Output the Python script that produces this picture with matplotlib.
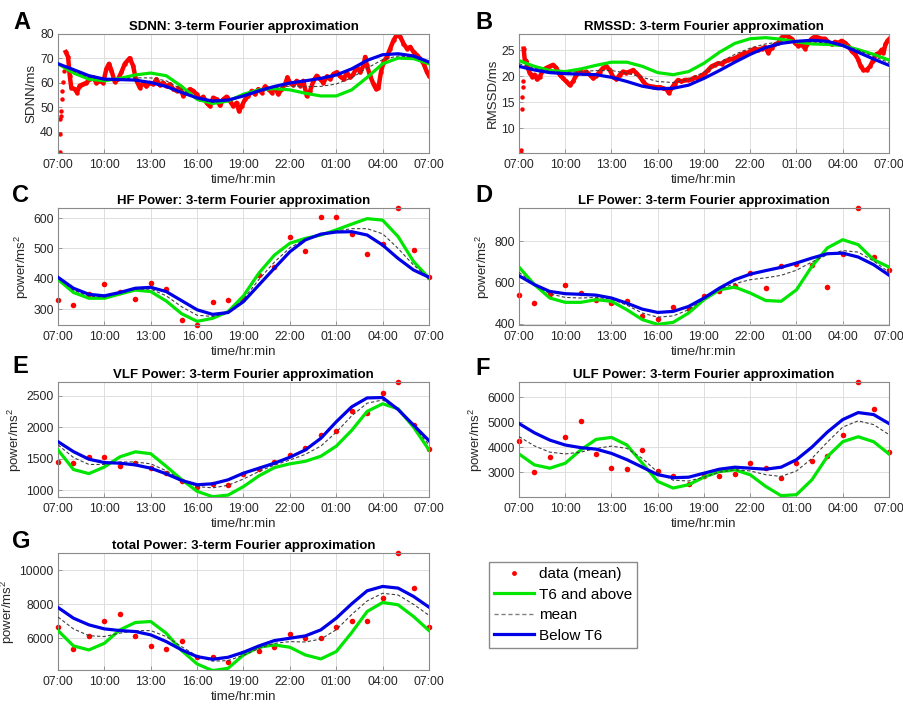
import numpy as np
import matplotlib
matplotlib.use("Agg")
import matplotlib.pyplot as plt
from matplotlib.lines import Line2D

plt.rcParams['font.family'] = ['Liberation Sans', 'DejaVu Sans']
plt.rcParams['mathtext.default'] = 'regular'

# hours after 07:00
hours = np.arange(25)
tick_hours = [0, 3, 6, 9, 12, 15, 18, 21, 24]
tick_labels = ['07:00', '10:00', '13:00', '16:00', '19:00', '22:00', '01:00', '04:00', '07:00']

# ---- A: SDNN ----
A_start_t = [0.10, 0.13, 0.16, 0.18, 0.20, 0.23, 0.27, 0.30, 0.36]
A_start_v = [31.5, 39.0, 45.0, 46.5, 48.4, 53.2, 56.7, 60.2, 65.0]
A_t = [0.50, 0.65, 0.76, 0.86, 1.08, 1.23, 1.40, 1.62, 1.84, 2.05, 2.27, 2.48, 2.70, 2.92,
       3.13, 3.30, 3.46, 3.67, 3.89, 4.10, 4.32, 4.64, 4.86, 5.03, 5.29, 5.51, 5.72, 5.94,
       6.16, 6.37, 6.59, 6.80, 7.02, 7.24, 7.45, 7.67, 7.88, 8.10, 8.32, 8.53, 8.75, 8.96,
       9.18, 9.40, 9.61, 9.83, 10.04, 10.26, 10.48, 10.69, 10.91, 11.12, 11.34, 11.56, 11.71,
       11.88, 12.10, 12.31, 12.53, 12.74, 12.96, 13.17, 13.39, 13.61, 13.82, 14.04, 14.25,
       14.47, 14.69, 14.84, 15.01, 15.23, 15.44, 15.66, 15.87, 16.09, 16.31, 16.52, 16.74,
       16.95, 17.17, 17.39, 17.60, 17.82, 18.03, 18.25, 18.47, 18.68, 18.90, 19.11, 19.33,
       19.55, 19.76, 19.87, 19.98, 20.19, 20.41, 20.58, 20.73, 20.89, 21.06, 21.27, 21.49,
       21.71, 21.92, 22.14, 22.35, 22.57, 22.79, 23.00, 23.22, 23.43, 23.65, 23.87, 24.00]
A_v = [72.6, 70.6, 62.9, 58.0, 57.4, 56.0, 58.8, 59.4, 60.0, 61.5, 62.2, 60.0, 60.8, 60.0,
       65.7, 67.8, 65.0, 60.4, 61.5, 64.3, 67.8, 70.1, 67.0, 61.5, 58.0, 60.0, 58.5, 60.0,
       59.4, 61.5, 59.0, 60.0, 58.5, 59.4, 57.4, 56.7, 58.5, 54.6, 56.0, 57.4, 56.7, 55.3,
       53.2, 54.3, 51.8, 50.4, 53.9, 53.2, 50.7, 53.2, 54.3, 52.5, 50.4, 51.8, 48.3,
       50.4, 53.2, 54.6, 56.7, 55.3, 57.4, 56.0, 58.5, 57.4, 56.0, 58.0, 55.3,
       57.4, 59.4, 62.2, 60.0, 59.0, 60.8, 58.8, 60.8, 54.6, 56.7, 60.8, 62.9,
       61.5, 60.0, 62.6, 61.5, 63.6, 64.3, 62.6, 61.5, 64.0, 62.2, 63.6, 66.4,
       64.3, 67.1, 70.6, 67.1, 62.9, 59.4, 57.4, 58.0, 64.3, 68.5, 70.6, 74.0,
       77.5, 79.6, 78.9, 76.1, 74.0, 74.7, 72.6, 71.3, 69.9, 67.8, 64.3, 62.9]
A_green = [67.8, 64.0, 61.5, 60.8, 61.8, 63.2, 64.0, 62.9, 58.5, 53.2, 51.5, 52.5, 55.3,
           57.1, 57.6, 57.1, 55.7, 54.6, 54.6, 57.1, 62.2, 67.8, 70.1, 69.9, 67.8]
A_mean = [67.8, 64.8, 62.3, 61.2, 61.5, 62.0, 62.0, 60.8, 57.3, 53.5, 52.0, 52.7, 55.0,
          57.0, 58.1, 58.6, 58.4, 58.5, 59.5, 62.0, 66.0, 69.5, 71.0, 70.5, 68.2]
A_blue = [67.8, 65.4, 62.9, 61.5, 61.3, 61.1, 60.1, 58.5, 56.0, 53.8, 52.5, 52.9, 54.6,
          56.7, 58.5, 59.9, 60.8, 61.8, 63.2, 65.7, 69.2, 71.5, 71.9, 71.0, 68.5]

# ---- B: RMSSD ----
B_start_t = [0.11, 0.13, 0.17, 0.22, 0.24, 0.26]
B_start_v = [5.3, 5.8, 13.8, 16.0, 17.9, 19.0]
B_t = [0.30, 0.37, 0.48, 0.58, 0.69, 0.87, 1.02, 1.17, 1.34, 1.56, 1.77, 1.99, 2.21, 2.42,
       2.64, 2.86, 3.07, 3.29, 3.51, 3.72, 3.94, 4.16, 4.37, 4.59, 4.81, 5.02, 5.24, 5.45,
       5.67, 5.89, 6.10, 6.32, 6.54, 6.75, 6.97, 7.19, 7.40, 7.62, 7.84, 8.05, 8.27, 8.48,
       8.70, 8.92, 9.13, 9.35, 9.57, 9.72, 9.89, 10.11, 10.32, 10.54, 10.76, 10.97, 11.19,
       11.41, 11.62, 11.84, 12.06, 12.27, 12.49, 12.71, 12.92, 13.14, 13.35, 13.57, 13.79,
       14.00, 14.22, 14.44, 14.65, 14.87, 15.09, 15.30, 15.52, 15.74, 15.95, 16.17, 16.39,
       16.60, 16.82, 17.03, 17.25, 17.47, 17.68, 17.90, 18.12, 18.33, 18.55, 18.77, 18.98,
       19.20, 19.42, 19.63, 19.85, 20.06, 20.28, 20.50, 20.71, 20.93, 21.15, 21.36, 21.58,
       21.80, 22.01, 22.16, 22.34, 22.55, 22.77, 22.94, 23.16, 23.38, 23.53, 23.64, 23.77,
       23.90, 24.00]
B_v = [25.3, 23.2, 22.9, 21.6, 20.6, 19.9, 20.3, 19.4, 19.9, 21.2, 21.6, 21.9, 22.2, 21.6,
       20.3, 19.6, 19.0, 18.3, 19.0, 20.3, 21.2, 20.6, 20.9, 20.3, 19.6, 20.1, 20.9, 21.6,
       21.9, 21.2, 19.9, 19.4, 20.3, 20.9, 20.7, 20.9, 21.2, 20.6, 19.9, 19.0, 18.3, 18.1,
       18.0, 17.9, 17.9, 17.7, 17.5, 16.8, 17.7, 18.6, 19.3, 19.0, 19.3, 19.3, 19.4,
       19.8, 19.6, 20.1, 20.6, 21.2, 21.9, 22.2, 22.5, 22.4, 22.9, 23.1, 23.3,
       23.5, 23.8, 24.2, 24.5, 24.5, 25.0, 25.3, 25.1, 25.3, 25.6, 24.5, 25.5,
       26.1, 26.4, 27.4, 27.9, 27.6, 27.2, 26.4, 25.8, 26.1, 25.3, 26.4, 27.2,
       27.6, 27.4, 27.2, 27.2, 26.6, 26.1, 26.6, 26.4, 26.8, 26.4, 25.8, 24.8,
       24.2, 23.2, 21.9, 21.2, 21.2, 21.9, 22.9, 24.2, 24.5, 25.1, 24.5, 26.1,
       26.8, 27.1]
B_green = [23.0, 21.9, 21.1, 20.9, 21.4, 22.1, 22.7, 22.7, 21.9, 20.7, 20.3, 20.9, 22.5,
           24.6, 26.3, 27.2, 27.4, 27.1, 26.6, 26.2, 26.1, 25.9, 25.1, 24.2, 23.1]
B_mean = [22.4, 21.5, 20.9, 20.7, 20.9, 21.1, 21.1, 20.6, 19.8, 19.0, 18.8, 19.4, 20.8,
          22.6, 24.2, 25.4, 26.2, 26.6, 26.7, 26.6, 26.4, 26.0, 25.0, 23.8, 22.6]
B_blue = [21.9, 21.2, 20.7, 20.5, 20.4, 20.3, 19.8, 19.0, 18.1, 17.6, 17.7, 18.3, 19.6,
          21.1, 22.7, 24.2, 25.5, 26.3, 26.7, 26.9, 26.7, 25.9, 24.6, 23.3, 22.1]

# ---- C: HF power ----
C_data = [331, 313, 351, 383, 358, 335, 386, 365, 264, 248, 325, 331, 335, 412, 438, 538,
          490, 603, 602, 546, 483, 515, 633, 495, 406]
C_green = [398, 355, 336, 336, 350, 363, 358, 327, 285, 260, 270, 292, 344, 419, 478, 517,
           533, 544, 561, 580, 598, 593, 539, 457, 402]
C_mean = [402, 363, 343, 340, 352, 366, 366, 344, 308, 280, 276, 287, 333, 398, 455, 502,
          530, 545, 557, 565, 565, 548, 500, 445, 404]
C_blue = [405, 369, 349, 344, 355, 369, 372, 358, 328, 298, 283, 289, 325, 380, 435, 489,
          528, 547, 554, 555, 544, 511, 467, 429, 405]

# ---- D: LF power ----
D_data = [541, 500, 546, 586, 549, 513, 500, 509, 436, 424, 481, 471, 536, 560, 581, 646,
          573, 682, 690, 685, 577, 738, 962, 724, 662]
D_green = [675, 590, 525, 504, 504, 517, 509, 468, 420, 397, 407, 452, 517, 565, 578, 549,
           513, 509, 565, 679, 768, 808, 784, 711, 675]
D_mean = [650, 590, 545, 528, 525, 528, 520, 490, 452, 432, 438, 468, 520, 568, 595, 614,
          623, 635, 660, 700, 735, 755, 748, 705, 650]
D_blue = [633, 590, 557, 546, 543, 539, 525, 500, 471, 455, 460, 484, 525, 573, 614, 641,
          658, 674, 695, 719, 740, 743, 724, 687, 636]

# ---- E: VLF power ----
E_data = [1451, 1430, 1535, 1524, 1388, 1430, 1361, 1272, 1141, 1047, 1099, 1083, 1262,
          1340, 1456, 1561, 1666, 1880, 1939, 2259, 2217, 2547, 2715, 2033, 1650]
E_green = [1640, 1330, 1265, 1370, 1530, 1610, 1580, 1380, 1170, 985, 900, 925, 1060,
           1230, 1360, 1420, 1460, 1540, 1700, 1950, 2250, 2370, 2290, 2000, 1640]
E_mean = [1720, 1520, 1410, 1410, 1450, 1450, 1420, 1310, 1170, 1060, 1040, 1080, 1180,
          1300, 1400, 1480, 1570, 1700, 1920, 2180, 2380, 2430, 2290, 2020, 1720]
E_blue = [1771, 1613, 1493, 1440, 1430, 1403, 1351, 1262, 1157, 1089, 1104, 1167, 1272,
          1351, 1430, 1524, 1640, 1823, 2085, 2322, 2463, 2469, 2280, 2033, 1786]

# ---- F: ULF power ----
F_data = [4243, 3001, 3596, 4415, 5049, 3728, 3186, 3120, 3886, 3054, 2856, 2539, 2843,
          2843, 2935, 3384, 3160, 2764, 3358, 3450, 3649, 4494, 6590, 5538, 3807]
F_green = [3728, 3292, 3160, 3358, 3886, 4309, 4388, 4085, 3358, 2631, 2367, 2499, 2803,
           3028, 3094, 2896, 2433, 2063, 2103, 2698, 3622, 4217, 4415, 4217, 3728]
F_mean = [4420, 4050, 3800, 3730, 3800, 3950, 4040, 3950, 3550, 3000, 2680, 2650, 2800,
          3000, 3100, 3050, 2900, 2830, 3050, 3550, 4200, 4800, 5050, 4900, 4500]
F_blue = [4943, 4573, 4280, 4085, 3980, 3920, 3750, 3500, 3200, 2900, 2780, 2800, 2960,
          3120, 3200, 3160, 3120, 3200, 3500, 4000, 4600, 5100, 5380, 5300, 4943]

# ---- G: total power ----
G_data = [6690, 5390, 6160, 7025, 7440, 6140, 5570, 5390, 5865, 4920, 4920, 4580, 5110,
          5270, 5490, 6240, 6000, 6040, 6690, 7025, 7025, 8365, 11000, 8935, 6690]
G_green = [6454, 5548, 5311, 5705, 6493, 6927, 6986, 6296, 5272, 4484, 4090, 4228, 5016,
           5469, 5607, 5469, 5016, 4780, 5213, 6336, 7577, 8109, 7971, 7281, 6454]
G_mean = [7250, 6550, 6150, 6100, 6300, 6450, 6450, 6100, 5500, 4950, 4650, 4680, 5000,
          5400, 5700, 5800, 5780, 5950, 6500, 7400, 8200, 8650, 8550, 8000, 7350]
G_blue = [7813, 7183, 6789, 6552, 6454, 6395, 6198, 5804, 5311, 4917, 4760, 4878, 5174,
          5548, 5863, 6001, 6139, 6493, 7183, 8030, 8798, 9054, 8956, 8463, 7833]

RED = '#ff0000'
GREEN = '#00e600'
BLUE = '#0000e6'
DASH = '#404040'
TXT = '#262626'

W, H = 904, 706
fig = plt.figure(figsize=(W / 100, H / 100), dpi=100)


def rect(l, t, r, b):
    return [l / W, 1 - b / H, (r - l) / W, (b - t) / H]


def style(ax, title, ylabel, ylim, yticks):
    ax.set_xlim(0, 24)
    ax.set_ylim(*ylim)
    ax.set_xticks(tick_hours)
    ax.set_xticklabels(tick_labels)
    ax.set_yticks(yticks)
    ax.grid(True, color='#dedede', lw=0.7)
    ax.set_axisbelow(True)
    for s in ax.spines.values():
        s.set_color('#8a8a8a')
        s.set_linewidth(0.8)
    ax.tick_params(direction='in', length=3, width=0.6, color='#8a8a8a',
                   labelcolor=TXT, labelsize=8.8, pad=3)
    ax.tick_params(axis='x', pad=4.5)
    ax.set_title(title, fontsize=9.5, fontweight='bold', color='black', pad=3)
    ax.set_xlabel('time/hr:min', fontsize=9.5, color=TXT, labelpad=2)
    ax.set_ylabel(ylabel, fontsize=9.5, color=TXT, labelpad=2)


def fits(ax, green, mean, blue):
    ax.plot(hours, green, color=GREEN, lw=2.3, zorder=3)
    ax.plot(hours, mean, '--', color=DASH, lw=0.8, dashes=(3, 2), zorder=4)
    ax.plot(hours, blue, color=BLUE, lw=2.3, zorder=5)


def dense_panel(pos, start_t, start_v, t, v, green, mean, blue, title, ylabel, ylim, yticks):
    ax = fig.add_axes(rect(*pos))
    ax.plot(start_t, start_v, 'o', color=RED, ms=3.2, mec='none', zorder=2)
    ax.plot(t, v, '-', color=RED, lw=3.2, marker='o', ms=3.2, mec='none', zorder=2)
    fits(ax, green, mean, blue)
    style(ax, title, ylabel, ylim, yticks)
    return ax


def hourly_panel(pos, data, green, mean, blue, title, ylim, yticks):
    ax = fig.add_axes(rect(*pos))
    ax.plot(hours, data, 'o', color=RED, ms=4, mec='none', zorder=2, clip_on=False)
    fits(ax, green, mean, blue)
    style(ax, title, 'power/ms$^2$', ylim, yticks)
    return ax


L = (58, 429)
R = (519, 889)
rows = [(34, 153), (208, 325), (382, 497), (553, 670)]

dense_panel((L[0], rows[0][0], L[1], rows[0][1]), A_start_t, A_start_v, A_t, A_v,
            A_green, A_mean, A_blue, 'SDNN: 3-term Fourier approximation', 'SDNN/ms',
            (31.2, 80), [40, 50, 60, 70, 80])
dense_panel((R[0], rows[0][0], R[1], rows[0][1]), B_start_t, B_start_v, B_t, B_v,
            B_green, B_mean, B_blue, 'RMSSD: 3-term Fourier approximation', 'RMSSD/ms',
            (5.3, 28.1), [10, 15, 20, 25])
hourly_panel((L[0], rows[1][0], L[1], rows[1][1]), C_data, C_green, C_mean, C_blue,
             'HF Power: 3-term Fourier approximation', (248, 633), [300, 400, 500, 600])
hourly_panel((R[0], rows[1][0], R[1], rows[1][1]), D_data, D_green, D_mean, D_blue,
             'LF Power: 3-term Fourier approximation', (394, 962), [400, 600, 800])
hourly_panel((L[0], rows[2][0], L[1], rows[2][1]), E_data, E_green, E_mean, E_blue,
             'VLF Power: 3-term Fourier approximation', (895, 2715),
             [1000, 1500, 2000, 2500])
hourly_panel((R[0], rows[2][0], R[1], rows[2][1]), F_data, F_green, F_mean, F_blue,
             'ULF Power: 3-term Fourier approximation', (2010, 6600),
             [3000, 4000, 5000, 6000])
hourly_panel((L[0], rows[3][0], L[1], rows[3][1]), G_data, G_green, G_mean, G_blue,
             'total Power: 3-term Fourier approximation', (4128, 11025),
             [6000, 8000, 10000])

# panel letters
letters = [('A', 13, 29), ('B', 475, 29), ('C', 12, 202), ('D', 475, 202),
           ('E', 12, 373), ('F', 475, 375), ('G', 12, 548)]
for s, x, y in letters:
    fig.text(x / W, 1 - y / H, s, fontsize=17, fontweight='bold', va='baseline')

handles = [
    Line2D([], [], ls='none', marker='o', ms=3.5, color=RED, mec='none'),
    Line2D([], [], color=GREEN, lw=2.3),
    Line2D([], [], color='#808080', lw=1, ls='--', dashes=(3, 2)),
    Line2D([], [], color=BLUE, lw=2.3),
]
fig.legend(handles, ['data (mean)', 'T6 and above', 'mean', 'Below T6'],
           loc='upper left', bbox_to_anchor=(489 / W, 1 - 562 / H),
           fontsize=11, frameon=True, fancybox=False, edgecolor='#8a8a8a',
           framealpha=1, borderaxespad=0, borderpad=0.35, handlelength=2.6,
           handletextpad=0.3, labelspacing=0.42)

fig.savefig('out.png', dpi=100)
